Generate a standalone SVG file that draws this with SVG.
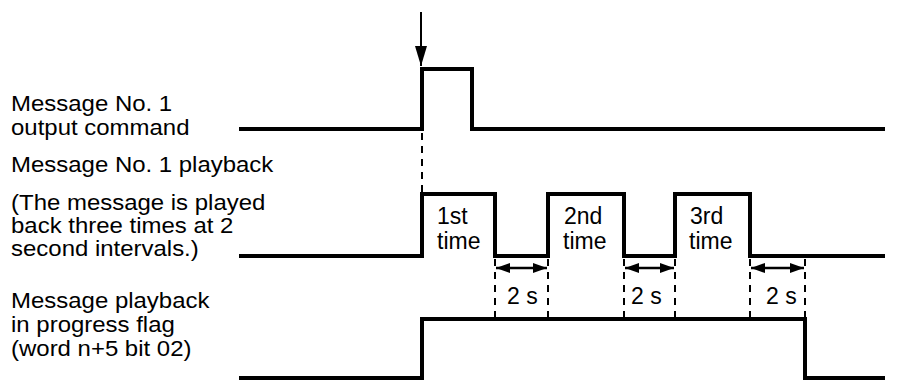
<svg xmlns="http://www.w3.org/2000/svg" width="903" height="387" viewBox="0 0 903 387">
  <defs>
    <style>
      .lbl { font-family: "Liberation Sans", Arial, sans-serif; font-size: 23px; fill: #000; }
      .side { font-family: "Liberation Sans", Arial, sans-serif; font-size: 21.5px; fill: #000; }
      .wave { fill: none; stroke: #000; stroke-width: 4; stroke-linejoin: miter; }
      .dash { fill: none; stroke: #000; stroke-width: 2; stroke-dasharray: 7 6; }
      .dim { fill: none; stroke: #000; stroke-width: 2.5; }
    </style>
    <marker id="ah" viewBox="0 0 14 10" refX="14" refY="5" markerWidth="14" markerHeight="10" markerUnits="userSpaceOnUse" orient="auto-start-reverse">
      <path d="M0,0 L14,5 L0,10 Z" fill="#000"/>
    </marker>
    <marker id="ahTop" viewBox="0 0 12 20" refX="6" refY="20" markerWidth="12" markerHeight="20" markerUnits="userSpaceOnUse" orient="0">
      <path d="M0,0 L12,0 L6,20 Z" fill="#000"/>
    </marker>
  </defs>

  <g id="label-output-command" transform="scale(1.115,1)">
    <text class="side" x="9.9" y="111">Message No. 1</text>
    <text class="side" x="9.9" y="135">output command</text>
  </g>
  <g id="label-playback" transform="scale(1.115,1)">
    <text class="side" x="9.9" y="172">Message No. 1 playback</text>
    <text class="side" x="9.9" y="210">(The message is played</text>
    <text class="side" x="9.9" y="233">back three times at 2</text>
    <text class="side" x="9.9" y="256">second intervals.)</text>
  </g>
  <g id="label-flag" transform="scale(1.115,1)">
    <text class="side" x="9.9" y="308">Message playback</text>
    <text class="side" x="9.9" y="332">in progress flag</text>
    <text class="side" x="9.9" y="356">(word n+5 bit 02)</text>
  </g>

  <g id="wave-output-command">
    <path class="wave" d="M239,129 H422 V69 H472 V129 H885"/>
  </g>
  <g id="wave-playback">
    <path class="wave" d="M239,256 H422 V194 H495 V256 H548 V194 H624 V256 H675 V194 H750 V256 H885"/>
    <text class="lbl" x="437" y="224">1st</text>
    <text class="lbl" x="437" y="249">time</text>
    <text class="lbl" x="564" y="224">2nd</text>
    <text class="lbl" x="563" y="249">time</text>
    <text class="lbl" x="690" y="224">3rd</text>
    <text class="lbl" x="689" y="249">time</text>
  </g>
  <g id="wave-flag">
    <path class="wave" d="M239,378 H422 V319 H805 V378 H885"/>
  </g>

  <g id="connectors">
    <line x1="421" y1="12" x2="421" y2="66" stroke="#000" stroke-width="2" marker-end="url(#ahTop)"/>
    <line class="dash" x1="422" y1="133" x2="422" y2="192"/>
    <line class="dash" x1="495" y1="259" x2="495" y2="319"/>
    <line class="dash" x1="548" y1="259" x2="548" y2="319"/>
    <line class="dash" x1="624" y1="259" x2="624" y2="319"/>
    <line class="dash" x1="675" y1="259" x2="675" y2="319"/>
    <line class="dash" x1="750" y1="259" x2="750" y2="319"/>
    <line class="dash" x1="805" y1="259" x2="805" y2="319"/>
    <line class="dim" x1="496" y1="268" x2="547" y2="268" marker-start="url(#ah)" marker-end="url(#ah)"/>
    <line class="dim" x1="625" y1="268" x2="674" y2="268" marker-start="url(#ah)" marker-end="url(#ah)"/>
    <line class="dim" x1="751" y1="268" x2="804" y2="268" marker-start="url(#ah)" marker-end="url(#ah)"/>
    <text class="lbl" x="507" y="304">2 s</text>
    <text class="lbl" x="631" y="304">2 s</text>
    <text class="lbl" x="766" y="304">2 s</text>
  </g>
</svg>
